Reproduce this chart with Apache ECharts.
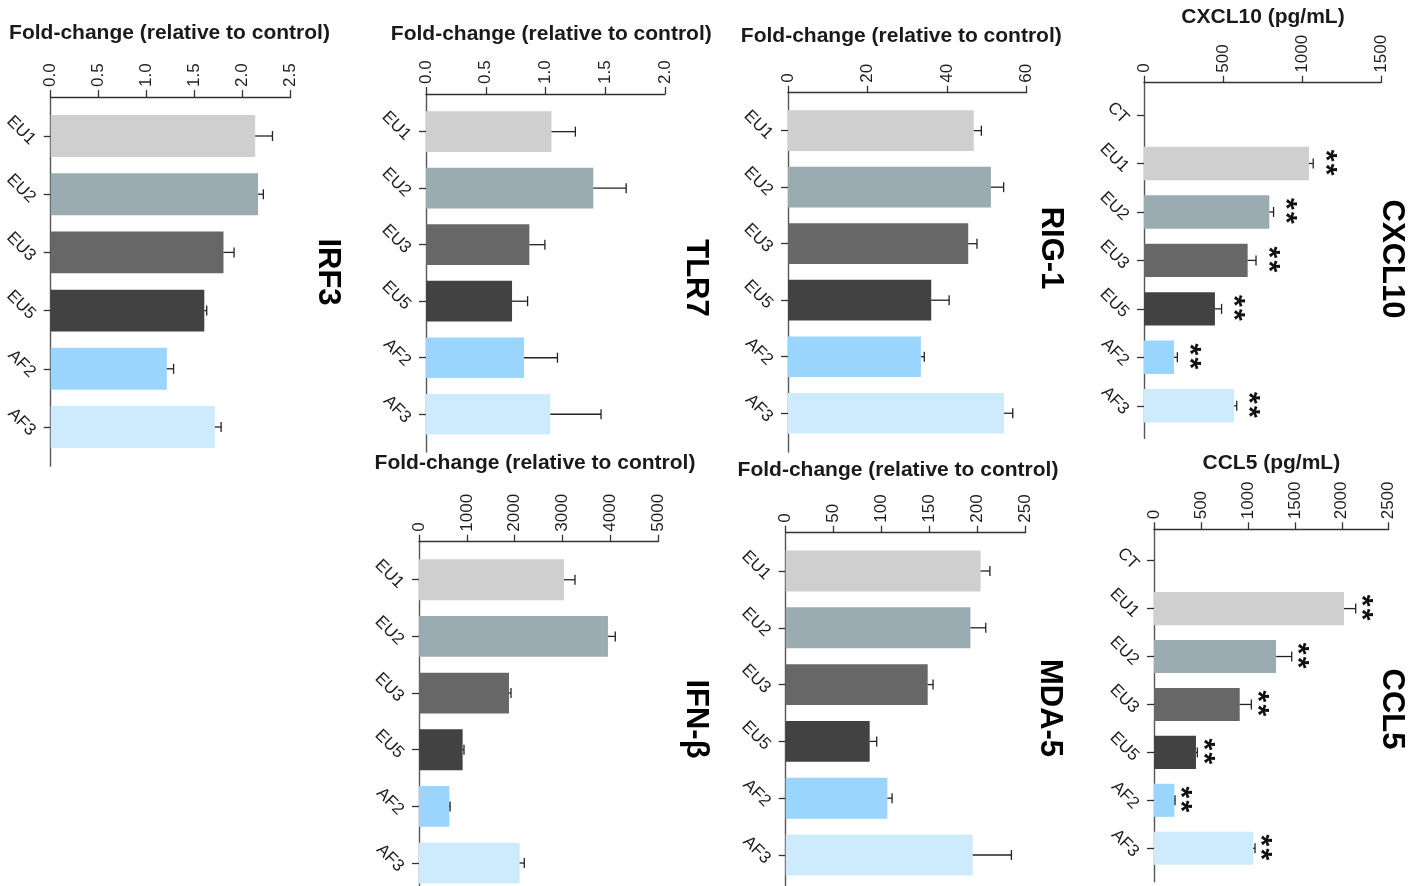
<!DOCTYPE html>
<html>
<head>
<meta charset="utf-8">
<title>Fold-change and cytokine panels</title>
<script src="https://cdn.jsdelivr.net/npm/echarts@6/dist/echarts.min.js"></script>
<style>
  html, body { margin: 0; padding: 0; background: #fff; }
  #chart { width: 1421px; height: 886px; }
</style>
</head>
<body>
<div id="chart"></div>
<script>
// groups
const groups = ['EU1', 'EU2', 'EU3', 'EU5', 'AF2', 'AF3'];
const groupsCT = ['CT', 'EU1', 'EU2', 'EU3', 'EU5', 'AF2', 'AF3'];

// fold-change (relative to control): mean and upper error
const irf3Mean = [2.13, 2.16, 1.80, 1.60, 1.21, 1.71];
const irf3Err = [0.18, 0.055, 0.11, 0.025, 0.07, 0.065];
const tlr7Mean = [1.05, 1.40, 0.865, 0.72, 0.82, 1.04];
const tlr7Err = [0.20, 0.275, 0.13, 0.13, 0.28, 0.425];
const rig1Mean = [46.7, 51.0, 45.3, 36.0, 33.4, 54.3];
const rig1Err = [1.9, 3.2, 2.2, 4.5, 0.85, 2.2];
const mda5Mean = [203, 192.4, 147.9, 87.5, 105.9, 194.8];
const mda5Err = [9.7, 16, 5.6, 7.3, 4.9, 40.3];
const ifnbMean = [3029, 3948, 1880, 912, 634, 2103];
const ifnbErr = [230, 153, 42, 28, 15, 97];

// secreted protein (pg/mL)
const cxcl10Mean = [0, 1044, 793, 656, 449, 190, 570];
const cxcl10Err = [0, 27, 27, 53, 42, 21, 17];
const ccl5Mean = [0, 2024, 1300, 913, 447, 217, 1055];
const ccl5Err = [0, 124, 167, 124, 15, 7, 21];
const sigMarks = ['', '**', '**', '**', '**', '**', '**'];

const groupColors = {
  CT: '#ffffff', EU1: '#cfcfcf', EU2: '#9aacb2', EU3: '#676767',
  EU5: '#424242', AF2: '#9ad5fe', AF3: '#ceebfd'
};

const FOLD = 'Fold-change (relative to control)';
const FONT = '"Liberation Sans", Arial, sans-serif';
const INK = '#1a1a1a';

// layout of each panel (pixels)
const panels = [
  { title: 'IRF3', name: FOLD, cats: groups, mean: irf3Mean, err: irf3Err, max: 2.5, interval: 0.5, digits: 1,
    left: 50.7, width: 240, axisY: 97, top: 106.9, height: 349.2, lineEnd: 466,
    titleX: 327.5, titleY: 272, nameX: 169.5, nameY: 33, gap: '28%' },
  { title: 'TLR7', name: FOLD, cats: groups, mean: tlr7Mean, err: tlr7Err, max: 2, interval: 0.5, digits: 1,
    left: 426, width: 239, axisY: 94, top: 103.4, height: 339.1, lineEnd: 452,
    titleX: 696, titleY: 278, nameX: 551.3, nameY: 34, gap: '28%' },
  { title: 'RIG-1', name: FOLD, cats: groups, mean: rig1Mean, err: rig1Err, max: 60, interval: 20, digits: 0,
    left: 788, width: 238.7, axisY: 92.7, top: 102.4, height: 339.1, lineEnd: 452,
    titleX: 1051, titleY: 248, nameX: 901.3, nameY: 36, gap: '28%' },
  { title: 'CXCL10', name: 'CXCL10 (pg/mL)', cats: groupsCT, mean: cxcl10Mean, err: cxcl10Err, marks: sigMarks,
    max: 1500, interval: 500, digits: 0,
    left: 1144, width: 237, axisY: 82.7, top: 90.8, height: 339.2, lineEnd: 438.3,
    titleX: 1392, titleY: 259, nameX: 1263, nameY: 17, gap: '31%', starGap: 12 },
  { title: 'CCL5', name: 'CCL5 (pg/mL)', cats: groupsCT, mean: ccl5Mean, err: ccl5Err, marks: sigMarks,
    max: 2500, interval: 500, digits: 0,
    left: 1154, width: 234.7, axisY: 529.3, top: 536.7, height: 335.5, lineEnd: 881.7,
    titleX: 1392, titleY: 709, nameX: 1271.3, nameY: 463, gap: '31%', starGap: 5.5 },
  { title: 'MDA-5', name: FOLD, cats: groups, mean: mda5Mean, err: mda5Err, max: 250, interval: 50, digits: 0,
    left: 785.7, width: 240, axisY: 532.7, top: 542.6, height: 340.8, lineEnd: 886,
    titleX: 1050, titleY: 708, nameX: 898, nameY: 470, gap: '28%' },
  { title: 'IFN-β', name: FOLD, cats: groups, mean: ifnbMean, err: ifnbErr, max: 5000, interval: 1000, digits: 0,
    left: 419, width: 239.3, axisY: 541.7, top: 551.4, height: 340, lineEnd: 886,
    titleX: 696, titleY: 719, nameX: 535, nameY: 463, gap: '28%' }
];

const grid = [], xAxis = [], yAxis = [], series = [], graphic = [];

panels.forEach(function (p, i) {
  const g = 2 * i, gl = 2 * i + 1;
  grid.push({ left: p.left, top: p.top, width: p.width, height: p.height, outerBoundsMode: 'none' });
  // extra grid that only carries the long category axis line
  grid.push({ left: p.left, top: p.axisY, width: 1, height: p.lineEnd - p.axisY, outerBoundsMode: 'none' });

  xAxis.push({
    gridIndex: g, type: 'value', position: 'top', offset: p.top - p.axisY,
    min: 0, max: p.max, interval: p.interval,
    axisLine: { show: true, lineStyle: { color: '#333', width: 1.3 } },
    axisTick: { show: true, length: 7, lineStyle: { color: '#333', width: 1.3 } },
    axisLabel: {
      rotate: -90, margin: 10, fontSize: 17, color: '#1e1e1e', fontFamily: FONT,
      formatter: function (v) { return v.toFixed(p.digits); }
    },
    splitLine: { show: false }
  });
  xAxis.push({ gridIndex: gl, type: 'value', show: false });

  yAxis.push({
    gridIndex: g, type: 'category', inverse: true, data: p.cats,
    axisLine: { show: false },
    axisTick: { show: true, alignWithLabel: true, length: 7, lineStyle: { color: '#333', width: 1.3 } },
    axisLabel: { rotate: -45, margin: 12, fontSize: 17, color: '#1e1e1e', fontFamily: FONT, interval: 0,
                 verticalAlign: 'top' },
    splitLine: { show: false }
  });
  yAxis.push({
    gridIndex: gl, type: 'value', min: 0, max: 1,
    axisLine: { show: true, lineStyle: { color: '#555', width: 1.4 } },
    axisTick: { show: false }, axisLabel: { show: false }, splitLine: { show: false }
  });

  series.push({
    type: 'bar', xAxisIndex: g, yAxisIndex: g, barCategoryGap: p.gap,
    data: p.mean.map(function (v, j) {
      return { value: v, itemStyle: { color: groupColors[p.cats[j]] } };
    })
  });

  series.push({
    type: 'custom', xAxisIndex: g, yAxisIndex: g, clip: false, z: 3,
    encode: { x: 0, y: 1 },
    data: p.mean.map(function (v, j) { return [v, j, p.err[j]]; }),
    renderItem: function (params, api) {
      const m = api.value(0), j = api.value(1), e = api.value(2);
      const mark = p.marks ? p.marks[params.dataIndex] : '';
      if (!e && !mark) return null;
      const p0 = api.coord([m, j]);
      const p1 = api.coord([m + e, j]);
      const ls = { stroke: '#222', lineWidth: 1.3 };
      const kids = [
        { type: 'line', shape: { x1: p0[0], y1: p0[1], x2: p1[0], y2: p1[1] }, style: ls },
        { type: 'line', shape: { x1: p1[0], y1: p1[1] - 5, x2: p1[0], y2: p1[1] + 5 }, style: ls }
      ];
      // each asterisk drawn on its own, stacked down the bar
      mark.split('').forEach(function (ch, k) {
        kids.push({
          type: 'text', x: p1[0] + p.starGap, y: p1[1] - 8 + k * 14, rotation: -Math.PI / 2,
          style: { text: ch, fontSize: 30, fontWeight: 'bold', fontFamily: FONT, fill: '#111',
                   align: 'center', verticalAlign: 'middle' }
        });
      });
      return { type: 'group', children: kids };
    }
  });

  graphic.push({
    type: 'text', x: p.nameX, y: p.nameY,
    style: { text: p.name, font: 'bold 21px ' + FONT, fill: INK, align: 'center', verticalAlign: 'middle',
             textAlign: 'center', textVerticalAlign: 'middle' }
  });
  graphic.push({
    type: 'text', x: p.titleX, y: p.titleY, rotation: -Math.PI / 2,
    style: { text: p.title, font: 'bold 31px ' + FONT, fill: '#000', align: 'center', verticalAlign: 'middle',
             textAlign: 'center', textVerticalAlign: 'middle' }
  });
});

const chart = echarts.init(document.getElementById('chart'));
chart.setOption({
  animation: false,
  backgroundColor: '#fff',
  grid: grid,
  xAxis: xAxis,
  yAxis: yAxis,
  series: series,
  graphic: graphic
});
</script>
</body>
</html>
